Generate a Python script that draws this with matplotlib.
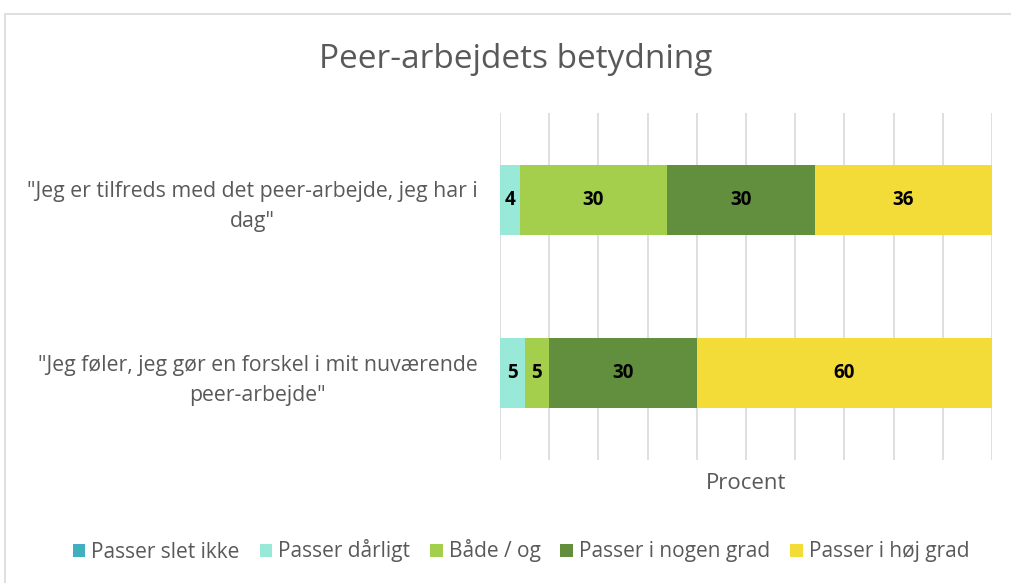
import matplotlib
matplotlib.use("Agg")
import matplotlib.pyplot as plt
from matplotlib.patches import Rectangle
import numpy as np

plt.rcParams['font.family'] = ['Open Sans', 'DejaVu Sans']

title = "Peer-arbejdets betydning"
categories = ['"Jeg er tilfreds med det peer-arbejde, jeg har i\ndag"',
              '"Jeg føler, jeg gør en forskel i mit nuværende\npeer-arbejde"']
series = ["Passer slet ikke", "Passer dårligt", "Både / og", "Passer i nogen grad", "Passer i høj grad"]
values = {
    "Passer slet ikke": [0, 0],
    "Passer dårligt": [4, 5],
    "Både / og": [30, 5],
    "Passer i nogen grad": [30, 30],
    "Passer i høj grad": [36, 60],
}
colors = ["#3FB0C0", "#98E9D7", "#A3CF4C", "#618F3D", "#F4DC38"]
xlabel = "Procent"

fig = plt.figure(figsize=(10.11, 5.83), dpi=100)
ax = fig.add_axes([500/1011, 1-460/583, 492/1011, 347/583])

# chart frame
fig.patches.append(Rectangle((5/1011, -0.01), 1.0, 1-14/583+0.01, transform=fig.transFigure,
                             fill=False, edgecolor="#D9D9D9", linewidth=1.2))

y = np.arange(len(categories))
left = np.zeros(len(categories))
bar_h = 0.405
for s, c in zip(series, colors):
    v = np.array(values[s], dtype=float)
    bars = ax.barh(y, v, left=left, height=bar_h, color=c, label=s, zorder=3)
    for rect, val in zip(bars, v):
        if val > 0:
            ax.text(rect.get_x() + rect.get_width()/2, rect.get_y() + rect.get_height()/2,
                    f"{int(val)}", ha="center", va="center", fontsize=13.5,
                    fontweight="bold", color="black", zorder=4)
    left += v

ax.set_xlim(0, 100)
ax.set_ylim(1.5, -0.5)
ax.set_xticks(np.arange(0, 101, 10))
ax.set_xticklabels([])
ax.tick_params(axis="x", length=0)
ax.tick_params(axis="y", length=0, pad=16)
ax.grid(axis="x", color="#D9D9D9", linewidth=1.2, zorder=0)
ax.set_yticks(y)
ax.set_yticklabels(categories, fontsize=15.3, color="#595959", multialignment="center",
                   linespacing=1.55)
for sp in ax.spines.values():
    sp.set_visible(False)
ax.set_xlabel(xlabel, fontsize=16, color="#595959", labelpad=6)

fig.text(516/1011, 1-60/583, title, ha="center", va="center", fontsize=24, color="#595959")

leg = fig.legend(loc="center", bbox_to_anchor=(521/1011, 1-551/583), ncol=5, frameon=False,
                 fontsize=15, handlelength=0.6, handleheight=0.6, handletextpad=0.3,
                 columnspacing=0.95, labelcolor="#595959")

fig.savefig("out.png", dpi=100)
